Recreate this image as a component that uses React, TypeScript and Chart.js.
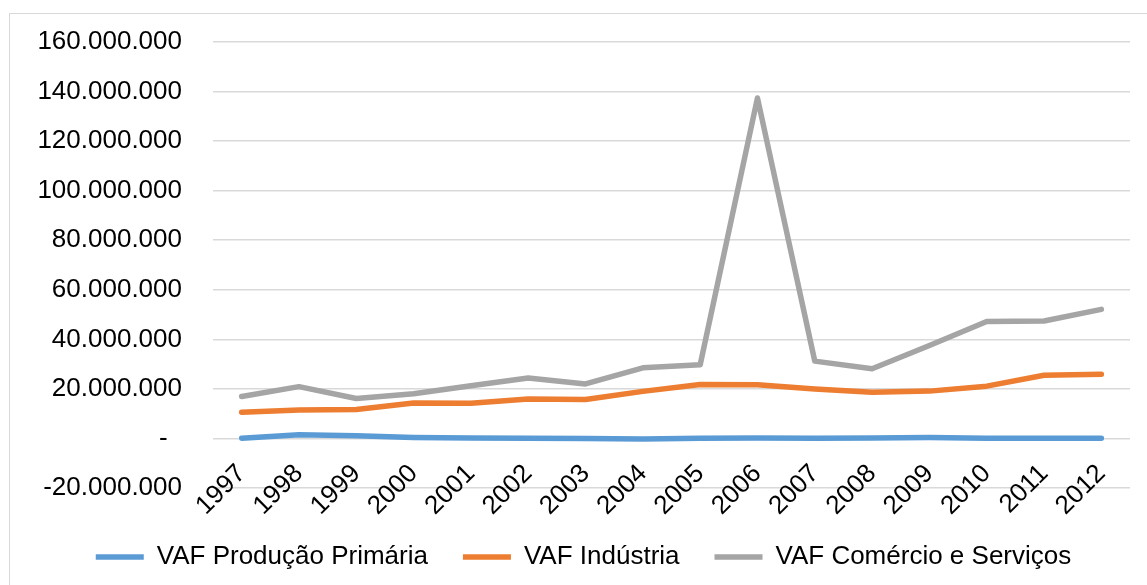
import React, { useEffect, useRef } from "react";
import { Chart, registerables } from "chart.js";

Chart.register(...registerables);

const years = ["1997","1998","1999","2000","2001","2002","2003","2004","2005","2006","2007","2008","2009","2010","2011","2012"];
const vafPrimaria = [100000, 1500000, 1100000, 400000, 200000, 100000, 0, -200000, 100000, 200000, 100000, 200000, 400000, 100000, 100000, 100000];
const vafIndustria = [10600000, 11500000, 11700000, 14300000, 14200000, 15900000, 15700000, 19000000, 21800000, 21700000, 20000000, 18600000, 19100000, 21100000, 25500000, 25900000];
const vafComercio = [16900000, 20900000, 16100000, 18000000, 21300000, 24400000, 22000000, 28500000, 29700000, 137400000, 31200000, 28100000, 37500000, 47200000, 47400000, 52100000];
const seriesNames = ["VAF Produção Primária", "VAF Indústria", "VAF Comércio e Serviços"];
const yMin = -20000000;
const yMax = 160000000;
const yStep = 20000000;

function fmt(v: number): string {
  if (v === 0) return "-  ";
  const s = String(Math.abs(v)).replace(/\B(?=(\d{3})+(?!\d))/g, ".");
  return (v < 0 ? "-" : "") + s;
}

export default function App() {
  const ref = useRef<HTMLCanvasElement | null>(null);
  useEffect(() => {
    if (!ref.current) return;
    const font = { family: "'Liberation Sans', Arial, sans-serif", size: 26 };
    const mk = (label: string, data: number[], color: string) => ({
      label,
      data,
      borderColor: color,
      backgroundColor: color,
      borderWidth: 5.5,
      borderCapStyle: "round" as const,
      borderJoinStyle: "round" as const,
      pointRadius: 0,
      pointHoverRadius: 0,
      tension: 0,
      fill: false,
      xAxisID: "x",
      yAxisID: "y",
    });
    const chart = new Chart(ref.current, {
      type: "line",
      data: {
        labels: years,
        datasets: [
          mk(seriesNames[0], vafPrimaria, "#5B9BD5"),
          mk(seriesNames[1], vafIndustria, "#ED7D31"),
          mk(seriesNames[2], vafComercio, "#A5A5A5"),
        ],
      },
      options: {
        animation: false,
        responsive: false,
        maintainAspectRatio: false,
        layout: { padding: { left: 27, right: 17, top: 28, bottom: 5 } },
        plugins: {
          tooltip: { enabled: false },
          legend: {
            position: "bottom",
            labels: {
              usePointStyle: true,
              pointStyle: "line",
              pointStyleWidth: 48,
              padding: 35,
              color: "#000",
              font,
            },
          },
        },
        scales: {
          x: {
            type: "category",
            position: { y: 0 },
            offset: true,
            grid: { display: false, drawTicks: false },
            border: { display: false },
            ticks: {
              autoSkip: false,
              minRotation: 45,
              maxRotation: 45,
              padding: 20,
              color: "#000",
              font,
            },
          },
          xSpacer: {
            type: "category",
            position: "bottom",
            offset: true,
            grid: { display: false, drawTicks: false },
            border: { display: false },
            ticks: { display: false },
            afterFit: (s: any) => { s.height = 21; },
          },
          y: {
            min: yMin,
            max: yMax,
            grid: {
              color: "#D9D9D9",
              lineWidth: 1.5,
              drawTicks: true,
              tickLength: 31,
              tickColor: "rgba(0,0,0,0)",
            },
            border: { display: false },
            ticks: {
              stepSize: yStep,
              padding: 0,
              color: "#000",
              font,
              callback: (v: any) => fmt(Number(v)),
            },
            afterFit: (s: any) => { s.width = 176; },
          },
        },
      },
    });
    return () => chart.destroy();
  }, []);
  return (
    <div style={{ position: "absolute", left: 9, top: 13, width: 1150, height: 600, border: "1px solid #D9D9D9", background: "#fff" }}>
      <canvas ref={ref} width={1137} height={571} style={{ display: "block", width: 1137, height: 571 }} />
    </div>
  );
}
